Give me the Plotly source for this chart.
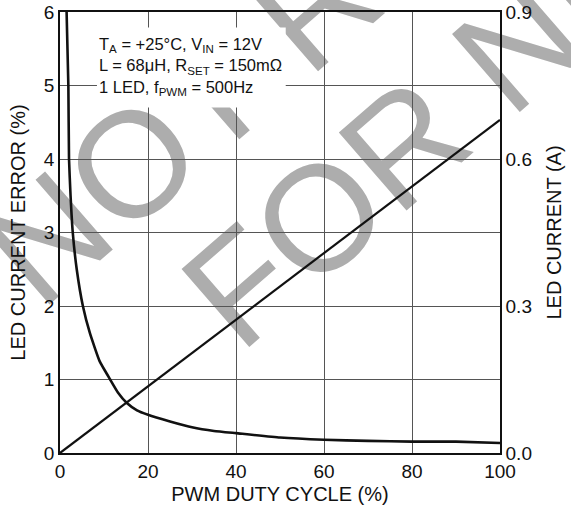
import plotly.graph_objects as go

# ---- data ----
duty_err = [1.5, 1.9, 2.05, 2.4, 2.9, 3.8, 5.2, 6.8, 9.0, 11.4, 13.2, 15.2, 17.5, 20, 25, 30, 35, 40, 50, 60, 70, 80, 90, 100]
err_pct = [6.0, 5.0, 4.0, 3.5, 3.0, 2.5, 2.0, 1.63, 1.25, 1.0, 0.82, 0.68, 0.58, 0.52, 0.43, 0.35, 0.30, 0.27, 0.21, 0.18, 0.165, 0.155, 0.155, 0.136]
duty_cur = [0, 100]
led_current = [0.0, 0.68]

x_ticks = [0, 20, 40, 60, 80, 100]
y_ticks = [0, 1, 2, 3, 4, 5, 6]
y2_ticks = [0.0, 0.3, 0.6, 0.9]

info_text = ("T<sub>A</sub> = +25°C, V<sub>IN</sub> = 12V<br>"
             "L = 68μH, R<sub>SET</sub> = 150mΩ<br>"
             "1 LED, f<sub>PWM</sub> = 500Hz")
watermark_1 = "NOT RECOMMENDED"
watermark_2 = "FOR NEW DESIGNS"

FONT = "Liberation Sans, Arial, Helvetica, sans-serif"

fig = go.Figure()
fig.add_trace(go.Scatter(x=duty_err, y=err_pct, mode="lines",
                         line=dict(color="#111", width=2.6, shape="spline", smoothing=0.4),
                         showlegend=False, hoverinfo="skip", cliponaxis=False))
fig.add_trace(go.Scatter(x=duty_cur, y=led_current, mode="lines", yaxis="y2",
                         line=dict(color="#111", width=2.2),
                         showlegend=False, hoverinfo="skip"))

# watermark (drawn under the grid)
WM_COLOR = "#adadad"
for txt, cx, cy in [(watermark_1, 1.198, 1.595), (watermark_2, 1.533, 1.395)]:
    fig.add_shape(type="rect", xref="paper", yref="paper",
                  x0=cx - 0.001, x1=cx + 0.001, y0=cy - 0.001, y1=cy + 0.001,
                  line=dict(width=0), fillcolor="rgba(0,0,0,0)", layer="below",
                  label=dict(text=txt, textangle=-41, textposition="middle center",
                             font=dict(family=FONT, size=150, color=WM_COLOR)))

# white box behind the conditions text
fig.add_shape(type="rect", xref="x", yref="y", x0=8.4, x1=51.3, y0=4.70, y1=5.79,
              line=dict(width=0), fillcolor="white", layer="above")
fig.add_annotation(x=8.3, y=5.71, xref="x", yref="y", xanchor="left", yanchor="top",
                   text=info_text, showarrow=False, align="left",
                   font=dict(family=FONT, size=16.5, color="#111"))

axis_common = dict(showline=True, linecolor="#111", linewidth=1.5, ticks="",
                   automargin=False, ticklabeloverflow="allow",
                   tickfont=dict(family=FONT, size=19, color="#111"),
                   title_font=dict(family=FONT, size=20, color="#111"))

fig.update_layout(
    width=571, height=508,
    margin=dict(l=60, r=71, t=12, b=55),
    paper_bgcolor="white", plot_bgcolor="rgba(0,0,0,0)",
    hovermode=False,
    xaxis=dict(range=[0, 100], tickvals=x_ticks, showgrid=True, gridcolor="#555",
               gridwidth=1, mirror=True, zeroline=False,
               title=dict(text="PWM DUTY CYCLE (%)", standoff=6), **axis_common),
    yaxis=dict(range=[0, 6], tickvals=y_ticks, showgrid=True, gridcolor="#555",
               gridwidth=1, mirror=True, zeroline=False,
               title=dict(text="LED CURRENT ERROR (%)", standoff=13), **axis_common),
    yaxis2=dict(range=[0, 0.9], tickvals=y2_ticks, tickformat=".1f", overlaying="y",
                side="right", showgrid=False, zeroline=False,
                title=dict(text="LED CURRENT (A)", standoff=16), **axis_common),
)

# remove the page's default body margin so the figure fills the window exactly
fig.write_html("out.html",
               config={"displayModeBar": False},
               post_script="document.body.style.margin='0';document.body.style.overflow='hidden';")
